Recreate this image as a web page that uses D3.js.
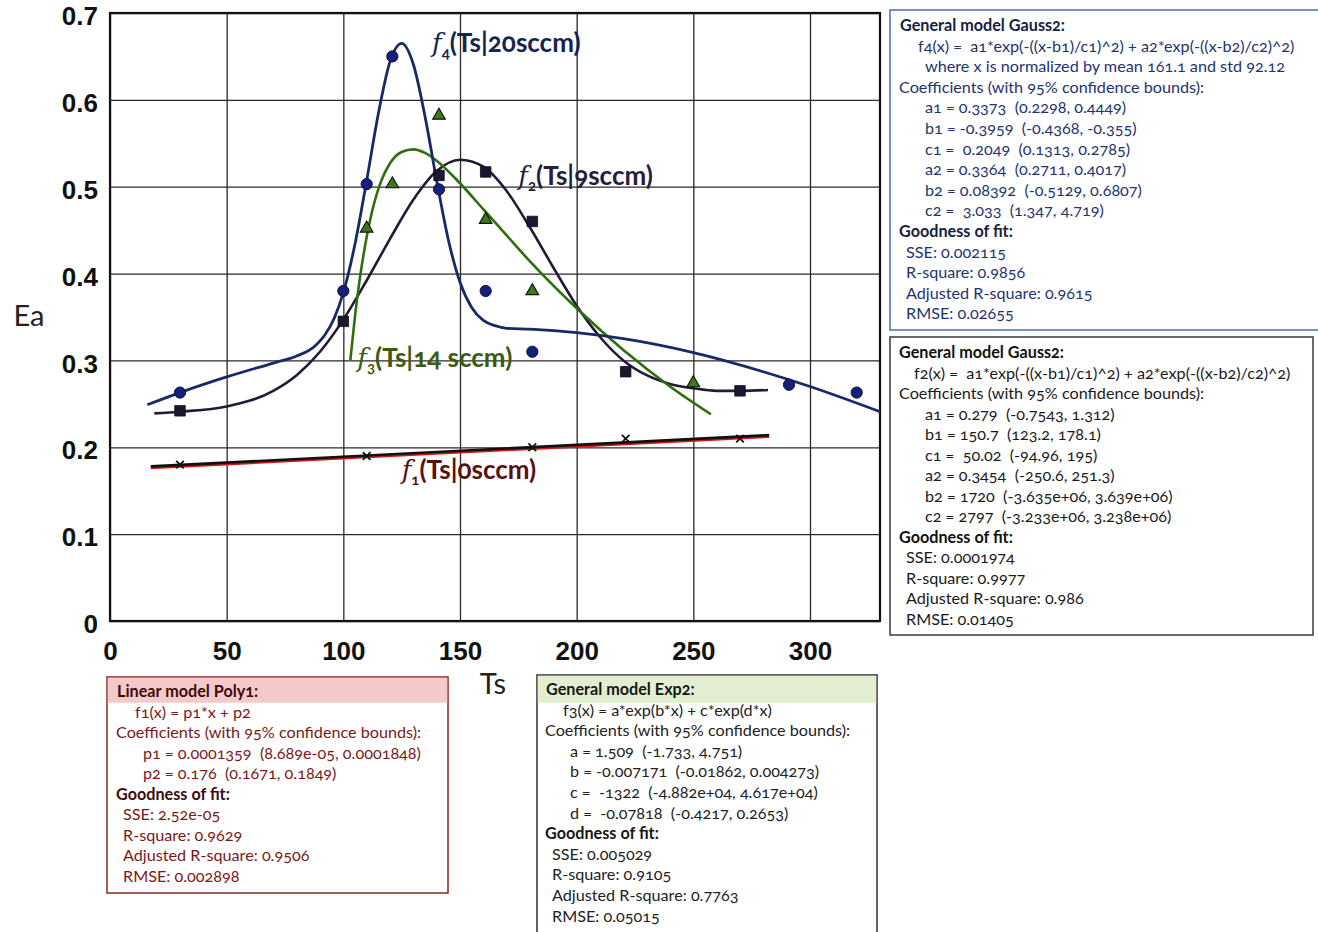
<!DOCTYPE html>
<html>
<head>
<meta charset="utf-8">
<script src="https://cdn.jsdelivr.net/npm/d3@7/dist/d3.min.js"></script>
<style>
  html, body { margin: 0; padding: 0; background: #fff; }
  svg { display: block; font-family: "Lato", "Open Sans", sans-serif; font-variant-numeric: oldstyle-nums; }
  .panel text { white-space: pre; }
</style>
</head>
<body>
<svg id="chart" width="1318" height="932"></svg>
<script>
// ---- axis ticks ----
const xTicks = [0, 50, 100, 150, 200, 250, 300];
const xTickLabels = ["0", "50", "100", "150", "200", "250", "300"];
const yTicks = [0, 0.1, 0.2, 0.3, 0.4, 0.5, 0.6, 0.7];
const yTickLabels = ["0", "0.1", "0.2", "0.3", "0.4", "0.5", "0.6", "0.7"];

// ---- measured points (Ts, Ea) ----
const obs20Ts = [30, 100, 110, 121, 141, 161, 181, 291, 320];
const obs20Ea = [0.263, 0.38, 0.503, 0.65, 0.497, 0.38, 0.31, 0.272, 0.263];
const obs9Ts = [30, 100, 141, 161, 181, 221, 270];
const obs9Ea = [0.242, 0.345, 0.513, 0.517, 0.46, 0.287, 0.265];
const obs14Ts = [110, 121, 141, 161, 181, 250];
const obs14Ea = [0.452, 0.503, 0.582, 0.462, 0.38, 0.274];
const obs0Ts = [30, 110, 181, 221, 270];
const obs0Ea = [0.18, 0.19, 0.2, 0.21, 0.21];

// ---- fitted curves, traced ----
const fit20Ts = [16, 30, 50, 70, 80, 88, 92, 96, 100, 105, 110, 115, 120, 125, 130, 135, 140, 145, 150, 155, 160, 165, 170, 180, 200, 220, 250, 280, 300, 330];
const fit20Ea = [0.249, 0.263, 0.281, 0.297, 0.305, 0.317, 0.329, 0.348, 0.378, 0.434, 0.507, 0.584, 0.644, 0.665, 0.641, 0.581, 0.507, 0.439, 0.390, 0.361, 0.346, 0.340, 0.337, 0.336, 0.332, 0.325, 0.309, 0.287, 0.270, 0.241];
const fit9Ts = [19, 30, 50, 70, 80, 90, 100, 110, 120, 130, 140, 150, 160, 170, 180, 190, 200, 210, 220, 230, 240, 250, 260, 270, 282];
const fit9Ea = [0.239, 0.241, 0.247, 0.265, 0.283, 0.310, 0.347, 0.392, 0.440, 0.485, 0.518, 0.531, 0.523, 0.495, 0.453, 0.407, 0.363, 0.327, 0.300, 0.283, 0.273, 0.268, 0.265, 0.265, 0.266];
const fit14Ts = [103, 105, 107, 110, 113, 116, 120, 125, 130, 135, 140, 150, 160, 170, 180, 200, 220, 240, 257.5];
const fit14Ea = [0.300, 0.351, 0.393, 0.442, 0.479, 0.505, 0.527, 0.540, 0.543, 0.539, 0.530, 0.504, 0.474, 0.444, 0.414, 0.360, 0.312, 0.270, 0.238];
const fit0Ts = [17.5, 282.5];
const fit0Ea = [0.178, 0.214];

// ---- curve labels ----
const curveNames = ["f", "f", "f", "f"];
const curveSubs = ["4", "2", "3", "1"];
const curveTails = ["(Ts|20sccm)", "(Ts|9sccm)", "(Ts|14 sccm)", "(Ts|0sccm)"];
const curveLabelTs = [138, 175, 106, 125];
const curveLabelEa = [0.655, 0.502, 0.293, 0.164];

// ---- fit result panels ----
const panel20 = [
  ["General model Gauss2:", 0, true],
  ["f4(x) =  a1*exp(-((x-b1)/c1)^2) + a2*exp(-((x-b2)/c2)^2)", 18, false],
  ["where x is normalized by mean 161.1 and std 92.12", 25, false],
  ["Coefficients (with 95% confidence bounds):", -1, false],
  ["a1 = 0.3373  (0.2298, 0.4449)", 25, false],
  ["b1 = -0.3959  (-0.4368, -0.355)", 25, false],
  ["c1 =  0.2049  (0.1313, 0.2785)", 25, false],
  ["a2 = 0.3364  (0.2711, 0.4017)", 25, false],
  ["b2 = 0.08392  (-0.5129, 0.6807)", 25, false],
  ["c2 =  3.033  (1.347, 4.719)", 25, false],
  ["Goodness of fit:", -1, true],
  ["SSE: 0.002115", 6, false],
  ["R-square: 0.9856", 6, false],
  ["Adjusted R-square: 0.9615", 6, false],
  ["RMSE: 0.02655", 6, false]
];
const panel9 = [
  ["General model Gauss2:", 0, true],
  ["f2(x) =  a1*exp(-((x-b1)/c1)^2) + a2*exp(-((x-b2)/c2)^2)", 15, false],
  ["Coefficients (with 95% confidence bounds):", 0, false],
  ["a1 = 0.279  (-0.7543, 1.312)", 26, false],
  ["b1 = 150.7  (123.2, 178.1)", 26, false],
  ["c1 =  50.02  (-94.96, 195)", 26, false],
  ["a2 = 0.3454  (-250.6, 251.3)", 26, false],
  ["b2 = 1720  (-3.635e+06, 3.639e+06)", 26, false],
  ["c2 = 2797  (-3.233e+06, 3.238e+06)", 26, false],
  ["Goodness of fit:", 0, true],
  ["SSE: 0.0001974", 7, false],
  ["R-square: 0.9977", 7, false],
  ["Adjusted R-square: 0.986", 7, false],
  ["RMSE: 0.01405", 7, false]
];
const panel0 = [
  ["Linear model Poly1:", 0, true],
  ["f1(x) = p1*x + p2", 18, false],
  ["Coefficients (with 95% confidence bounds):", -1, false],
  ["p1 = 0.0001359  (8.689e-05, 0.0001848)", 26, false],
  ["p2 = 0.176  (0.1671, 0.1849)", 26, false],
  ["Goodness of fit:", -1, true],
  ["SSE: 2.52e-05", 6, false],
  ["R-square: 0.9629", 6, false],
  ["Adjusted R-square: 0.9506", 6, false],
  ["RMSE: 0.002898", 6, false]
];
const panel14 = [
  ["General model Exp2:", 0, true],
  ["f3(x) = a*exp(b*x) + c*exp(d*x)", 17, false],
  ["Coefficients (with 95% confidence bounds):", -1, false],
  ["a = 1.509  (-1.733, 4.751)", 24, false],
  ["b = -0.007171  (-0.01862, 0.004273)", 24, false],
  ["c =  -1322  (-4.882e+04, 4.617e+04)", 24, false],
  ["d =  -0.07818  (-0.4217, 0.2653)", 24, false],
  ["Goodness of fit:", -1, true],
  ["SSE: 0.005029", 6, false],
  ["R-square: 0.9105", 6, false],
  ["Adjusted R-square: 0.7763", 6, false],
  ["RMSE: 0.05015", 6, false]
];

const svg = d3.select("#chart");
const plot = { left: 110, top: 13, right: 880, bottom: 621 };

const x = d3.scaleLinear().domain([0, 330]).range([plot.left, plot.right]);
const y = d3.scaleLinear().domain([0, 0.7]).range([plot.bottom, plot.top]);

// ---- grid + tick labels ----
const xAxis = d3.axisBottom(x)
  .tickValues(xTicks)
  .tickSize(-(plot.bottom - plot.top))
  .tickPadding(16)
  .tickFormat((d, i) => xTickLabels[i]);
const gx = svg.append("g").attr("transform", `translate(0,${plot.bottom})`).call(xAxis);

const yAxis = d3.axisLeft(y)
  .tickValues(yTicks)
  .tickSize(-(plot.right - plot.left))
  .tickPadding(12)
  .tickFormat((d, i) => yTickLabels[i]);
const gy = svg.append("g").attr("transform", `translate(${plot.left},0)`).call(yAxis);

[gx, gy].forEach(g => {
  g.select(".domain").remove();
  g.selectAll(".tick line").attr("stroke", "#2a2a2a").attr("stroke-width", 1.3);
  g.selectAll(".tick text")
    .attr("fill", "#111")
    .style("font-size", "26px")
    .style("font-weight", "700");
});
gx.selectAll(".tick text").attr("dy", "0.9em");
gy.selectAll(".tick text").attr("dy", "0.45em");

// frame
svg.append("rect")
  .attr("x", plot.left).attr("y", plot.top)
  .attr("width", plot.right - plot.left).attr("height", plot.bottom - plot.top)
  .attr("fill", "none").attr("stroke", "#111").attr("stroke-width", 2.2);

// axis titles
svg.append("text").attr("x", 29).attr("y", 326).attr("text-anchor", "middle")
  .style("font-size", "29px").attr("fill", "#222").text("Ea");
svg.append("text").attr("x", 493).attr("y", 694).attr("text-anchor", "middle")
  .style("font-size", "29px").attr("fill", "#222").text("Ts");

// ---- curves ----
const zipPts = (xs, ys) => xs.map((v, i) => [v, ys[i]]);
const line = d3.line().x(d => x(d[0])).y(d => y(d[1])).curve(d3.curveMonotoneX);

svg.append("clipPath").attr("id", "plotclip").append("rect")
  .attr("x", plot.left).attr("y", plot.top)
  .attr("width", plot.right - plot.left).attr("height", plot.bottom - plot.top);
const layer = svg.append("g").attr("clip-path", "url(#plotclip)");

// 0 sccm: black line with a red edge
layer.append("path").datum(zipPts(fit0Ts, fit0Ea))
  .attr("d", line).attr("fill", "none").attr("stroke", "#d01818").attr("stroke-width", 3)
  .attr("transform", "translate(0,1.3)");
layer.append("path").datum(zipPts(fit0Ts, fit0Ea))
  .attr("d", line).attr("fill", "none").attr("stroke", "#151010").attr("stroke-width", 2.6);

layer.append("path").datum(zipPts(fit9Ts, fit9Ea))
  .attr("d", line).attr("fill", "none").attr("stroke", "#241a36").attr("stroke-width", 2.6);
layer.append("path").datum(zipPts(fit14Ts, fit14Ea))
  .attr("d", line).attr("fill", "none").attr("stroke", "#2f6d0f").attr("stroke-width", 2.6);
layer.append("path").datum(zipPts(fit20Ts, fit20Ea))
  .attr("d", line).attr("fill", "none").attr("stroke", "#172a66").attr("stroke-width", 2.8);

// ---- markers ----
const sym = (type, size) => d3.symbol().type(type).size(size)();

svg.append("g").selectAll("path").data(zipPts(obs0Ts, obs0Ea)).join("path")
  .attr("transform", d => `translate(${x(d[0])},${y(d[1])})`)
  .attr("d", sym(d3.symbolX, 40)).attr("fill", "none").attr("stroke", "#111").attr("stroke-width", 1.8);

svg.append("g").selectAll("path").data(zipPts(obs9Ts, obs9Ea)).join("path")
  .attr("transform", d => `translate(${x(d[0])},${y(d[1])})`)
  .attr("d", sym(d3.symbolSquare, 110)).attr("fill", "#1b1730").attr("stroke", "#0d0b18").attr("stroke-width", 0.8);

svg.append("g").selectAll("path").data(zipPts(obs14Ts, obs14Ea)).join("path")
  .attr("transform", d => `translate(${x(d[0])},${y(d[1])})`)
  .attr("d", sym(d3.symbolTriangle, 70)).attr("fill", "#3e7a14").attr("stroke", "#111").attr("stroke-width", 1.1);

svg.append("g").selectAll("circle").data(zipPts(obs20Ts, obs20Ea)).join("circle")
  .attr("cx", d => x(d[0])).attr("cy", d => y(d[1]))
  .attr("r", 5.6).attr("fill", "#16207a").attr("stroke", "#0a0f3a").attr("stroke-width", 1);

// ---- curve labels ----
const labelColors = ["#17244f", "#261d3c", "#3c5a10", "#5a0f10"];
curveNames.forEach((nm, i) => {
  const t = svg.append("text")
    .attr("x", x(curveLabelTs[i])).attr("y", y(curveLabelEa[i]))
    .attr("fill", labelColors[i])
    .style("font-size", "26px").style("font-weight", "700");
  t.append("tspan").style("font-style", "italic").style("font-family", "'DejaVu Serif', serif").style("font-weight", "400").text(nm);
  t.append("tspan").attr("dy", 6).style("font-size", "15px").text(curveSubs[i]);
  t.append("tspan").attr("dy", -6).text(curveTails[i]);
});

// ---- fit panels ----
function panel(opts, lines) {
  const g = svg.append("g").attr("class", "panel");
  g.append("rect").attr("x", opts.x).attr("y", opts.y).attr("width", opts.w).attr("height", opts.h)
    .attr("fill", "#fff").attr("stroke", opts.border).attr("stroke-width", 1.5);
  if (opts.band) {
    g.append("rect").attr("x", opts.x + 0.75).attr("y", opts.y + 0.75)
      .attr("width", opts.w - 1.5).attr("height", opts.bandH).attr("fill", opts.band);
  }
  g.selectAll("text").data(lines).join("text")
    .attr("x", d => opts.textX + d[1])
    .attr("y", (d, i) => opts.base + i * opts.step)
    .attr("fill", d => d[2] ? opts.titleColor : opts.color)
    .style("font-size", opts.size + "px")
    .style("font-weight", d => d[2] ? "700" : "400")
    .text(d => d[0]);
}

panel({ x: 890, y: 10, w: 440, h: 320, border: "#4a6db2", textX: 900, base: 31, step: 20.6,
        size: 16.2, color: "#1f336f", titleColor: "#16213f" }, panel20);
panel({ x: 890, y: 337, w: 423, h: 298, border: "#3a3a3a", textX: 899, base: 358, step: 20.5,
        size: 16.2, color: "#1a1a1a", titleColor: "#111" }, panel9);
panel({ x: 107, y: 677, w: 341, h: 216, border: "#8c2424", band: "#f3caca", bandH: 25, textX: 117, base: 697, step: 20.5,
        size: 16.2, color: "#7a1818", titleColor: "#3c0b0b" }, panel0);
panel({ x: 537, y: 675, w: 340, h: 272, border: "#2e2e2e", band: "#e3eed1", bandH: 27, textX: 546, base: 695, step: 20.6,
        size: 16.2, color: "#222", titleColor: "#161616" }, panel14);
</script>
</body>
</html>
